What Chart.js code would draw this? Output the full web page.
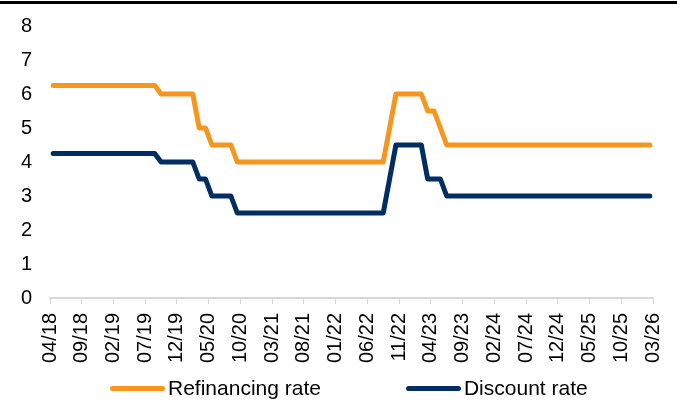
<!DOCTYPE html>
<html>
<head>
<meta charset="utf-8">
<script src="https://cdn.jsdelivr.net/npm/chart.js@4/dist/chart.umd.min.js"></script>
<style>
  body { margin: 0; background: #fff; }
  #wrap { position: relative; width: 677px; height: 402px; overflow: hidden; }
  #topline { position: absolute; left: 0; top: 1px; width: 677px; height: 0; border-top: 3px solid #000; }
  #legend { position: absolute; left: 110px; top: 376px; display: flex; align-items: center;
            font-family: "Liberation Sans", Arial, sans-serif; font-size: 21px; color: #000; }
  .item { display: flex; align-items: center; margin-right: 85px; }
  .swatch { width: 55px; height: 5px; border-radius: 3px; margin-right: 3px; }
</style>
</head>
<body>
<div id="wrap">
  <div id="topline"></div>
  <canvas id="myChart" width="677" height="402"></canvas>
  <div id="legend"></div>
</div>
<script>
// monthly values, 04/18 .. 02/26
var refinancing = [
  6.25, 6.25, 6.25, 6.25, 6.25, 6.25, 6.25, 6.25, 6.25, 6.25, 6.25, 6.25, 6.25, 6.25, 6.25, 6.25, 6.25,
  6.0, 6.0, 6.0, 6.0, 6.0, 6.0,
  5.0, 5.0,
  4.5, 4.5, 4.5, 4.5,
  4.0, 4.0, 4.0, 4.0, 4.0, 4.0, 4.0, 4.0, 4.0, 4.0, 4.0, 4.0,
  4.0, 4.0, 4.0, 4.0, 4.0, 4.0, 4.0, 4.0, 4.0, 4.0, 4.0, 4.0,
  5.0,
  6.0, 6.0, 6.0, 6.0, 6.0,
  5.5, 5.5,
  5.0,
  4.5, 4.5, 4.5, 4.5, 4.5, 4.5, 4.5, 4.5, 4.5, 4.5, 4.5,
  4.5, 4.5, 4.5, 4.5, 4.5, 4.5, 4.5, 4.5, 4.5, 4.5, 4.5,
  4.5, 4.5, 4.5, 4.5, 4.5, 4.5, 4.5, 4.5, 4.5, 4.5, 4.5
];
var discount = [
  4.25, 4.25, 4.25, 4.25, 4.25, 4.25, 4.25, 4.25, 4.25, 4.25, 4.25, 4.25, 4.25, 4.25, 4.25, 4.25, 4.25,
  4.0, 4.0, 4.0, 4.0, 4.0, 4.0,
  3.5, 3.5,
  3.0, 3.0, 3.0, 3.0,
  2.5, 2.5, 2.5, 2.5, 2.5, 2.5, 2.5, 2.5, 2.5, 2.5, 2.5, 2.5,
  2.5, 2.5, 2.5, 2.5, 2.5, 2.5, 2.5, 2.5, 2.5, 2.5, 2.5, 2.5,
  3.5,
  4.5, 4.5, 4.5, 4.5, 4.5,
  3.5, 3.5, 3.5,
  3.0, 3.0, 3.0, 3.0, 3.0, 3.0, 3.0, 3.0, 3.0, 3.0, 3.0,
  3.0, 3.0, 3.0, 3.0, 3.0, 3.0, 3.0, 3.0, 3.0, 3.0, 3.0,
  3.0, 3.0, 3.0, 3.0, 3.0, 3.0, 3.0, 3.0, 3.0, 3.0, 3.0
];
// axis labels, one every 5 months
var tickLabels = ['04/18', '09/18', '02/19', '07/19', '12/19', '05/20', '10/20', '03/21', '08/21', '01/22',
                  '06/22', '11/22', '04/23', '09/23', '02/24', '07/24', '12/24', '05/25', '10/25', '03/26'];
var seriesNames = ['Refinancing rate', 'Discount rate'];
var seriesColors = ['#F7961E', '#002D62'];

// point sits in the middle of its month
function toPoints(arr) {
  return arr.map(function(v, i) { return { x: i + 0.5, y: v }; });
}

var font = { family: '"Liberation Sans", Arial, sans-serif', size: 20 };

var ctx = document.getElementById('myChart').getContext('2d');
var myChart = new Chart(ctx, {
  type: 'line',
  data: {
    datasets: [
      { label: seriesNames[0], data: toPoints(refinancing), borderColor: seriesColors[0], backgroundColor: seriesColors[0] },
      { label: seriesNames[1], data: toPoints(discount), borderColor: seriesColors[1], backgroundColor: seriesColors[1] }
    ]
  },
  options: {
    responsive: false,
    animation: false,
    devicePixelRatio: 1,
    layout: { autoPadding: false, padding: { top: 26, right: 24, left: 0, bottom: 0 } },
    elements: {
      point: { radius: 0 },
      line: { borderWidth: 5, tension: 0, borderCapStyle: 'round', borderJoinStyle: 'round' }
    },
    plugins: { legend: { display: false }, tooltip: { enabled: false } },
    scales: {
      x: {
        type: 'linear',
        min: 0,
        max: 95,
        afterFit: function(scale) {
          scale.height = 104;
          scale.paddingLeft = 0;
          scale.paddingRight = 0;
        },
        border: { display: true, color: '#d9d9d9', width: 2 },
        grid: { display: true, drawOnChartArea: false, drawTicks: true, tickLength: 6, color: '#d9d9d9', lineWidth: 1 },
        ticks: {
          stepSize: 5,
          autoSkip: false,
          maxRotation: 90,
          minRotation: 90,
          padding: 9,
          color: '#000',
          font: font,
          callback: function(v) { return tickLabels[Math.round(v / 5)]; }
        }
      },
      y: {
        min: 0,
        max: 8,
        afterFit: function(scale) {
          scale.width = 50;
          scale.paddingTop = 0;
          scale.paddingBottom = 0;
        },
        border: { display: false },
        grid: { display: false, drawTicks: false },
        ticks: { stepSize: 1, padding: 18, color: '#000', font: font }
      }
    }
  }
});

// html legend from the datasets
var legend = document.getElementById('legend');
myChart.data.datasets.forEach(function(ds) {
  var item = document.createElement('div');
  item.className = 'item';
  var sw = document.createElement('span');
  sw.className = 'swatch';
  sw.style.background = ds.borderColor;
  var txt = document.createElement('span');
  txt.textContent = ds.label;
  item.appendChild(sw);
  item.appendChild(txt);
  legend.appendChild(item);
});
</script>
</body>
</html>
